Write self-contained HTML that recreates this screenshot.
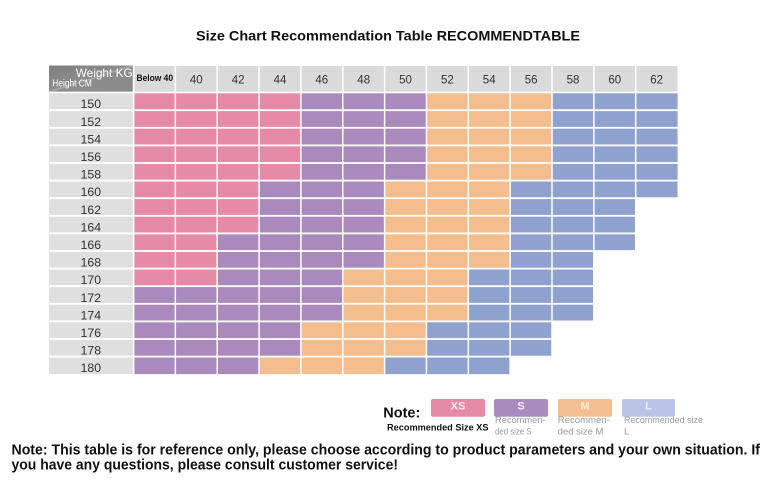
<!DOCTYPE html>
<html>
<head>
<meta charset="utf-8">
<style>
html,body{margin:0;padding:0;background:#fff;}
svg{display:block;}
text{font-family:"Liberation Sans",sans-serif;}
</style>
</head>
<body>
<svg width="771" height="502" viewBox="0 0 771 502" xmlns="http://www.w3.org/2000/svg">
<rect x="0" y="0" width="771" height="502" fill="#ffffff"/>

<!-- Title -->
<text x="196" y="40.5" font-size="14" font-weight="bold" fill="#111" textLength="384" lengthAdjust="spacingAndGlyphs">Size Chart Recommendation Table RECOMMENDTABLE</text>

<!-- Header row background -->
<rect x="49" y="66" width="628.6" height="25.8" fill="#dadada"/>
<!-- Corner -->
<defs>
<linearGradient id="cg" x1="0" y1="0" x2="1" y2="1">
<stop offset="0" stop-color="#7f7f7f"/>
<stop offset="0.47" stop-color="#8c8c8c"/>
<stop offset="0.5" stop-color="#a8a8a8"/>
<stop offset="0.53" stop-color="#8c8c8c"/>
<stop offset="1" stop-color="#8a8a8a"/>
</linearGradient>
</defs>
<rect x="49" y="65.5" width="84.5" height="26.3" fill="url(#cg)"/>
<text x="132.7" y="76.8" font-size="12" fill="#fff" text-anchor="end" textLength="57" lengthAdjust="spacingAndGlyphs">Weight KG</text>
<text x="52.3" y="86.7" font-size="9.8" fill="#fff" textLength="39.5" lengthAdjust="spacingAndGlyphs">Height CM</text>

<!-- Row label column -->
<rect x="49" y="92.5" width="84.5" height="281.6" fill="#dfdfdf"/>

<!-- Color runs -->
<g>
<!-- rows 150-158 -->
<rect x="133.5" y="92.5" width="125.55" height="88" fill="#e68aa8"/>
<rect x="259.05" y="92.5" width="125.55" height="88" fill="#aa8abc"/>
<rect x="384.6" y="92.5" width="125.55" height="88" fill="#f3bd8e"/>
<rect x="510.15" y="92.5" width="167.4" height="88" fill="#8fa2cf"/>
</g>
<!-- fix rows 150-158 exact runs: XS 0-3, S 4-6, M 7-9, L 10-12 -->
<rect x="133.5" y="92.5" width="125.55" height="88" fill="#e68aa8"/>
<rect x="259.05" y="92.5" width="41.85" height="88" fill="#e68aa8"/>
<rect x="300.9" y="92.5" width="125.55" height="88" fill="#aa8abc"/>
<rect x="426.45" y="92.5" width="125.55" height="88" fill="#f3bd8e"/>
<rect x="552" y="92.5" width="125.55" height="88" fill="#8fa2cf"/>

<!-- row 160 -->
<rect x="133.5" y="180.5" width="125.55" height="17.6" fill="#e68aa8"/>
<rect x="259.05" y="180.5" width="125.55" height="17.6" fill="#aa8abc"/>
<rect x="384.6" y="180.5" width="125.55" height="17.6" fill="#f3bd8e"/>
<rect x="510.15" y="180.5" width="167.4" height="17.6" fill="#8fa2cf"/>

<!-- rows 162-164 -->
<rect x="133.5" y="198.1" width="125.55" height="35.2" fill="#e68aa8"/>
<rect x="259.05" y="198.1" width="125.55" height="35.2" fill="#aa8abc"/>
<rect x="384.6" y="198.1" width="125.55" height="35.2" fill="#f3bd8e"/>
<rect x="510.15" y="198.1" width="125.55" height="35.2" fill="#8fa2cf"/>

<!-- row 166 -->
<rect x="133.5" y="233.3" width="83.7" height="17.6" fill="#e68aa8"/>
<rect x="217.2" y="233.3" width="167.4" height="17.6" fill="#aa8abc"/>
<rect x="384.6" y="233.3" width="125.55" height="17.6" fill="#f3bd8e"/>
<rect x="510.15" y="233.3" width="125.55" height="17.6" fill="#8fa2cf"/>

<!-- row 168 -->
<rect x="133.5" y="250.9" width="83.7" height="17.6" fill="#e68aa8"/>
<rect x="217.2" y="250.9" width="167.4" height="17.6" fill="#aa8abc"/>
<rect x="384.6" y="250.9" width="125.55" height="17.6" fill="#f3bd8e"/>
<rect x="510.15" y="250.9" width="83.7" height="17.6" fill="#8fa2cf"/>

<!-- row 170 -->
<rect x="133.5" y="268.5" width="83.7" height="17.6" fill="#e68aa8"/>
<rect x="217.2" y="268.5" width="125.55" height="17.6" fill="#aa8abc"/>
<rect x="342.75" y="268.5" width="125.55" height="17.6" fill="#f3bd8e"/>
<rect x="468.3" y="268.5" width="125.55" height="17.6" fill="#8fa2cf"/>

<!-- rows 172-174 -->
<rect x="133.5" y="286.1" width="209.25" height="35.2" fill="#aa8abc"/>
<rect x="342.75" y="286.1" width="125.55" height="35.2" fill="#f3bd8e"/>
<rect x="468.3" y="286.1" width="125.55" height="35.2" fill="#8fa2cf"/>

<!-- rows 176-178 -->
<rect x="133.5" y="321.3" width="167.4" height="35.2" fill="#aa8abc"/>
<rect x="300.9" y="321.3" width="125.55" height="35.2" fill="#f3bd8e"/>
<rect x="426.45" y="321.3" width="125.55" height="35.2" fill="#8fa2cf"/>

<!-- row 180 -->
<rect x="133.5" y="356.5" width="125.55" height="17.6" fill="#aa8abc"/>
<rect x="259.05" y="356.5" width="125.55" height="17.6" fill="#f3bd8e"/>
<rect x="384.6" y="356.5" width="125.55" height="17.6" fill="#8fa2cf"/>

<!-- white grid lines: vertical -->
<g fill="#ffffff">
<rect x="132.8" y="66" width="1.6" height="309"/>
<rect x="174.6" y="66" width="1.5" height="309"/>
<rect x="216.45" y="66" width="1.5" height="309"/>
<rect x="258.3" y="66" width="1.5" height="309"/>
<rect x="300.15" y="66" width="1.5" height="309"/>
<rect x="342" y="66" width="1.5" height="309"/>
<rect x="383.85" y="66" width="1.5" height="309"/>
<rect x="425.7" y="66" width="1.5" height="309"/>
<rect x="467.55" y="66" width="1.5" height="309"/>
<rect x="509.4" y="66" width="1.5" height="309"/>
<rect x="551.25" y="66" width="1.5" height="309"/>
<rect x="593.1" y="66" width="1.5" height="309"/>
<rect x="634.95" y="66" width="1.5" height="309"/>
<!-- horizontal -->
<rect x="49" y="91.7" width="630" height="1.6"/>
<rect x="49" y="109.3" width="630" height="1.8"/>
<rect x="49" y="126.9" width="630" height="1.8"/>
<rect x="49" y="144.5" width="630" height="1.8"/>
<rect x="49" y="162.1" width="630" height="1.8"/>
<rect x="49" y="179.7" width="630" height="1.8"/>
<rect x="49" y="197.3" width="630" height="1.8"/>
<rect x="49" y="214.9" width="630" height="1.8"/>
<rect x="49" y="232.5" width="630" height="1.8"/>
<rect x="49" y="250.1" width="630" height="1.8"/>
<rect x="49" y="267.7" width="630" height="1.8"/>
<rect x="49" y="285.3" width="630" height="1.8"/>
<rect x="49" y="302.9" width="630" height="1.8"/>
<rect x="49" y="320.5" width="630" height="1.8"/>
<rect x="49" y="338.1" width="630" height="1.8"/>
<rect x="49" y="355.7" width="630" height="1.8"/>
</g>

<!-- Header labels -->
<g font-size="11.5" fill="#333" text-anchor="middle">
<text x="154.8" y="81" font-size="9.6" font-weight="bold" fill="#111" textLength="36.5" lengthAdjust="spacingAndGlyphs">Below 40</text>
<text x="196.3" y="83.4">40</text>
<text x="238.1" y="83.4">42</text>
<text x="280" y="83.4">44</text>
<text x="321.8" y="83.4">46</text>
<text x="363.7" y="83.4">48</text>
<text x="405.5" y="83.4">50</text>
<text x="447.4" y="83.4">52</text>
<text x="489.2" y="83.4">54</text>
<text x="531.1" y="83.4">56</text>
<text x="573" y="83.4">58</text>
<text x="614.8" y="83.4">60</text>
<text x="656.6" y="83.4">62</text>
</g>

<!-- Row labels -->
<g font-size="12.3" fill="#333" text-anchor="middle">
<text x="90.8" y="108.2">150</text>
<text x="90.8" y="125.8">152</text>
<text x="90.8" y="143.4">154</text>
<text x="90.8" y="161">156</text>
<text x="90.8" y="178.6">158</text>
<text x="90.8" y="196.2">160</text>
<text x="90.8" y="213.8">162</text>
<text x="90.8" y="231.4">164</text>
<text x="90.8" y="249">166</text>
<text x="90.8" y="266.6">168</text>
<text x="90.8" y="284.2">170</text>
<text x="90.8" y="301.8">172</text>
<text x="90.8" y="319.4">174</text>
<text x="90.8" y="337">176</text>
<text x="90.8" y="354.6">178</text>
<text x="90.8" y="372.2">180</text>
</g>

<!-- Legend -->
<text x="383.3" y="417.3" font-size="14.5" font-weight="bold" fill="#111" textLength="37" lengthAdjust="spacingAndGlyphs">Note:</text>
<rect x="431" y="399" width="54" height="17.7" rx="2" fill="#e58aa7"/>
<rect x="494" y="399" width="54" height="17.7" rx="2" fill="#a98bc0"/>
<rect x="558" y="399" width="54" height="17.7" rx="2" fill="#f3be91"/>
<rect x="622" y="399" width="53" height="17.7" rx="2" fill="#b9c4e6"/>
<g font-size="11" font-weight="bold" text-anchor="middle">
<text x="458" y="409.5" fill="#fbeef3">XS</text>
<text x="521" y="409.5" fill="#f6f0fa">S</text>
<text x="585" y="409.5" fill="#fde9d8">M</text>
<text x="648.5" y="409.5" fill="#eef1fb">L</text>
</g>
<text x="387" y="430.5" font-size="9.5" font-weight="bold" fill="#111" textLength="101.5" lengthAdjust="spacingAndGlyphs">Recommended Size XS</text>
<g font-size="9.5" fill="#9a9a9a">
<text x="495" y="423.2" textLength="50.5" lengthAdjust="spacingAndGlyphs">Recommen-</text>
<text x="495" y="434.5" textLength="36.5" lengthAdjust="spacingAndGlyphs">ded size S</text>
<text x="557.8" y="423.2" textLength="52" lengthAdjust="spacingAndGlyphs">Recommen-</text>
<text x="557.8" y="434.5" textLength="45.5" lengthAdjust="spacingAndGlyphs">ded size M</text>
<text x="624" y="423.2" textLength="79" lengthAdjust="spacingAndGlyphs">Recommended size</text>
<text x="624" y="434.5">L</text>
</g>

<!-- Bottom note -->
<text x="11.5" y="454.3" font-size="15" font-weight="bold" fill="#111" textLength="748.5" lengthAdjust="spacingAndGlyphs">Note: This table is for reference only, please choose according to product parameters and your own situation. If</text>
<text x="11.5" y="469.5" font-size="15" font-weight="bold" fill="#111" textLength="386.5" lengthAdjust="spacingAndGlyphs">you have any questions, please consult customer service!</text>
</svg>
</body>
</html>
